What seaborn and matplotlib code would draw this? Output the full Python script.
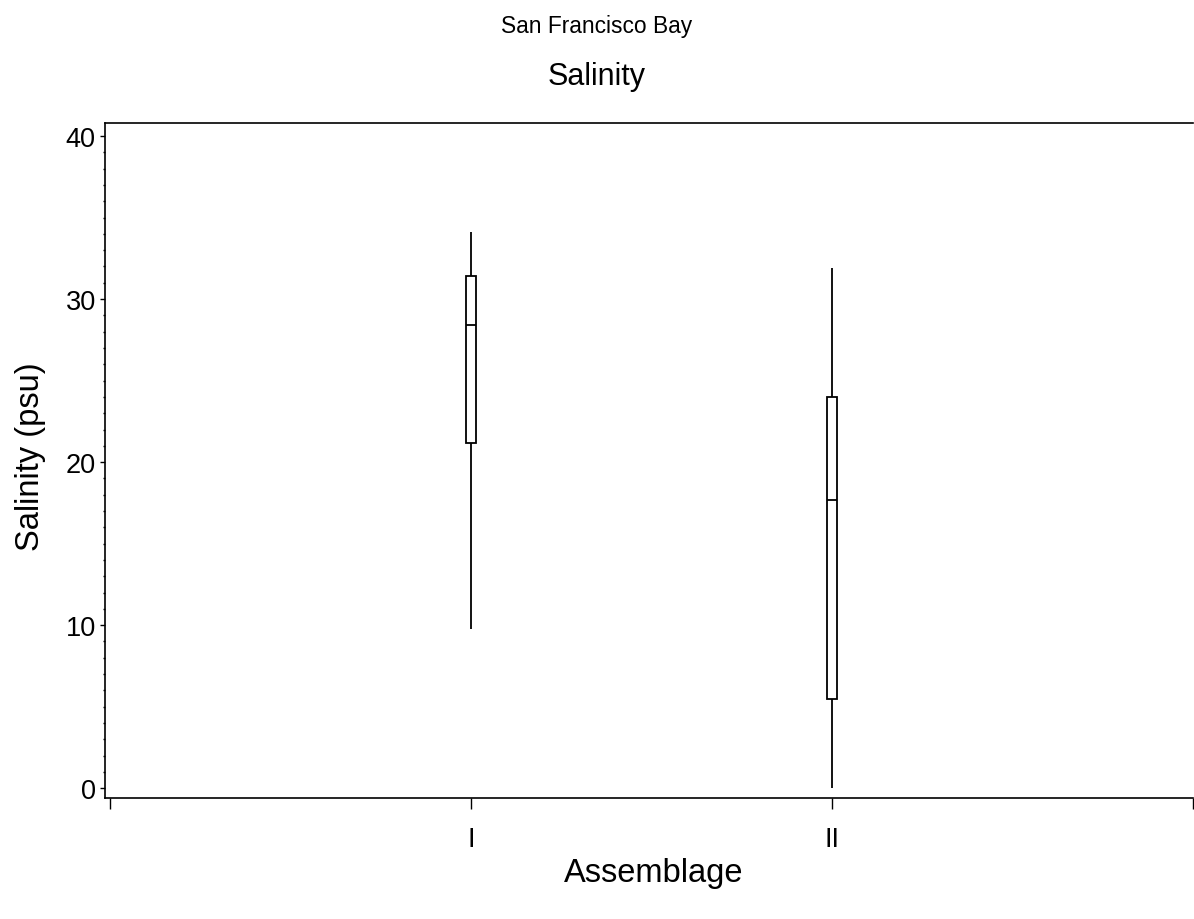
import numpy as np
import pandas as pd
import matplotlib
matplotlib.use("Agg")
import matplotlib.pyplot as plt
from matplotlib.ticker import MultipleLocator
import seaborn as sns

# Five-number summaries of salinity (psu) per assemblage: min, Q1, median, Q3, max
assemblages = ["I", "II"]
assemblage_pos = [1, 2]
sal_min = [9.75, 0.0]
sal_q1 = [21.2, 5.5]
sal_median = [28.4, 17.7]
sal_q3 = [31.4, 24.0]
sal_max = [34.1, 31.9]

x_ticks = [0, 1, 2, 3]
x_ticklabels = ["", "I", "II", ""]

# Each group's five summary values reproduce the same quartiles under linear interpolation
rows = []
for pos, lo, q1, med, q3, hi in zip(assemblage_pos, sal_min, sal_q1, sal_median, sal_q3, sal_max):
    for v in (lo, q1, med, q3, hi):
        rows.append({"pos": pos, "salinity": v})
df = pd.DataFrame(rows)

sns.set_style("ticks")
plt.rcParams["font.family"] = ["Liberation Sans", "DejaVu Sans"]
plt.rcParams["text.color"] = "black"
plt.rcParams["axes.labelcolor"] = "black"

fig = plt.figure(figsize=(11.94, 9.2), dpi=100)
ax = fig.add_axes([105 / 1194, 1 - 799 / 920, (1193 - 105) / 1194, (799 - 124) / 920])

sns.boxplot(
    data=df, x="pos", y="salinity", native_scale=True, ax=ax,
    whis=np.inf, width=0.027, color="white", linecolor="black",
    linewidth=1.3, saturation=1, fliersize=0,
)

# Plain whiskers without end caps
for cont in ax.containers:
    for cap in getattr(cont, "caps", []):
        cap.set_visible(False)

ax.set_xlim(-0.014, 3.0)
ax.set_ylim(-0.6, 40.8)
ax.set_xticks(x_ticks)
ax.set_xticklabels(x_ticklabels)
ax.yaxis.set_major_locator(MultipleLocator(10))
ax.yaxis.set_minor_locator(MultipleLocator(1))

for side in ("left", "bottom", "top"):
    ax.spines[side].set_linewidth(1.2)
    ax.spines[side].set_color("black")
ax.spines["right"].set_visible(False)

ax.tick_params(axis="y", which="major", length=3.6, width=1.0, labelsize=19.5, pad=3, colors="black")
ax.tick_params(axis="y", which="minor", length=1.6, width=1.0, colors="black")
ax.tick_params(axis="x", which="major", length=8, width=1.0, labelsize=19.5, pad=12, colors="black")

ax.set_xlabel("Assemblage", fontsize=23.5, labelpad=4)
ax.xaxis.label.set_x(0.504)
ax.set_ylabel("Salinity (psu)", fontsize=23.5, labelpad=14)
ax.yaxis.label.set_y(0.507)

fig.text(0.5, 1 - 27 / 920, "San Francisco Bay", ha="center", va="center", fontsize=16.4)
fig.text(0.5, 1 - 77 / 920, "Salinity", ha="center", va="center", fontsize=22)

fig.savefig("out.png", dpi=100)
